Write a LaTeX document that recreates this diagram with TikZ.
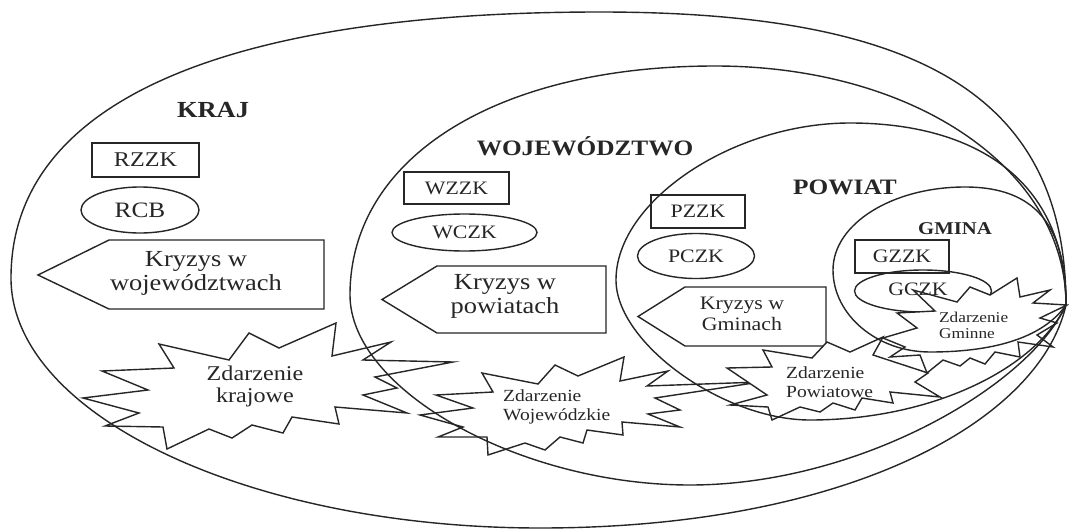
\documentclass[tikz,border=0pt]{standalone}
\usepackage{fontspec}
\setmainfont{Liberation Serif}[FakeStretch=1.15]
\usetikzlibrary{shapes.geometric}
\definecolor{ink}{HTML}{262626}
\begin{document}
\begin{tikzpicture}[x=1pt,y=-1pt,
  ln/.style={draw=ink,line width=1.4pt,line join=miter},
  starln/.style={draw=ink,line width=1.4pt,fill=white,line join=miter},
  hdr/.style={text=ink,inner sep=0pt,font=\bfseries\fontsize{#1}{#1}\selectfont},
  txt/.style={text=ink,inner sep=0pt,font=\fontsize{#1}{#1}\selectfont},
  boxn/.style={draw=ink,line width=1.4pt,rectangle,inner sep=0pt,text=ink},
  ovaln/.style={draw=ink,line width=1.4pt,ellipse,inner sep=0pt,text=ink}]
\useasboundingbox (0,0) rectangle (1069,530);
\fill[white] (0,0) rectangle (1069,530);
\coordinate (R) at (1066,305);

% headers
\node[hdr=23] (kraj) at (213,110) {KRAJ};
\node[hdr=22] (woj) at (585,146) {WOJEWÓDZTWO};
\node[hdr=22] (pow) at (845,187) {POWIAT};
\node[hdr=18] (gmi) at (955,229) {GMINA};

% boxes
\node[boxn,minimum width=107pt,minimum height=34pt,font=\fontsize{21}{21}\selectfont] (rzzk) at (145.5,160) {RZZK};
\node[boxn,minimum width=105pt,minimum height=32pt,font=\fontsize{19}{19}\selectfont] (wzzk) at (456.5,188) {WZZK};
\node[boxn,minimum width=94pt,minimum height=33pt,font=\fontsize{19}{19}\selectfont] (pzzk) at (698,211.5) {PZZK};
\node[boxn,minimum width=94pt,minimum height=33pt,font=\fontsize{19}{19}\selectfont] (gzzk) at (902,256.5) {GZZK};

% ovals
\node[ovaln,minimum width=118pt,minimum height=46pt,font=\fontsize{22}{22}\selectfont] (rcb) at (140,210) {RCB};
\node[ovaln,minimum width=145pt,minimum height=37pt,font=\fontsize{19}{19}\selectfont] (wczk) at (464.5,232.5) {WCZK};
\node[ovaln,minimum width=117pt,minimum height=45pt,font=\fontsize{19}{19}\selectfont] (pczk) at (696,256) {PCZK};
\node[ovaln,minimum width=137pt,minimum height=42pt] (gczkshape) at (923,291) {};

% crisis arrows
\draw[ln] (38,275) -- (109,240) -- (324,240) -- (324,309) -- (109,309) -- cycle;
\node[txt=23,align=center,font=\fontsize{23}{24}\selectfont] (kw) at (196,273) {Kryzys w\\województwach};
\draw[ln] (382,299.5) -- (437,266) -- (606,266) -- (606,333) -- (437,333) -- cycle;
\node[txt=23,align=center,font=\fontsize{23}{24}\selectfont] (kp) at (505,296) {Kryzys w\\powiatach};
\draw[ln] (638,316.5) -- (685,287) -- (826,287) -- (826,346) -- (685,346) -- cycle;
\node[txt=19,align=center,font=\fontsize{19}{21}\selectfont] (kg) at (742,314) {Kryzys w\\Gminach};

% event stars
\draw[starln] (83,398) -- (148,390) -- (102,371) -- (174,368) -- (159,344) -- (229,360) -- (249,333) -- (279,348) -- (336,323) -- (332,356) -- (391,342) -- (363,360) -- (453,362) -- (375,377) -- (397,388) -- (363,395) -- (407,413) -- (335,407) -- (339,424) -- (292,417) -- (283,433) -- (252,425) -- (232,438) -- (209,429) -- (167,449) -- (163,427) -- (105,426) -- (139,413) -- cycle;
\node[txt=21,align=center,font=\fontsize{21}{22}\selectfont] (zk) at (255,386) {Zdarzenie\\krajowe};

\draw[starln] (436,395) -- (493,392) -- (482,373) -- (538,384) -- (555,365) -- (578,376) -- (624,357) -- (620,381) -- (668,371) -- (647,386) -- (760,382) -- (655,398) -- (680,410) -- (648,414) -- (680,427) -- (622,422) -- (623,435) -- (587,430) -- (583,443) -- (560,437) -- (545,450) -- (525,443) -- (488,455) -- (487,437) -- (438,437) -- (463,427) -- (420,415) -- (473,408) -- cycle;
\node[txt=17,anchor=west,align=left,font=\fontsize{17}{19}\selectfont] (zw) at (503,406.5) {Zdarzenie\\Wojewódzkie};

\draw[starln] (727,368) -- (772,367) -- (763,350) -- (812,358) -- (827,342) -- (850,352) -- (883,337) -- (873,355) -- (928,373) -- (915,382) -- (940,397) -- (890,392) -- (893,403) -- (862,398) -- (855,410) -- (833,403) -- (820,412) -- (800,407) -- (772,420) -- (768,407) -- (730,405) -- (767,395) -- cycle;
\node[txt=17,anchor=west,align=left,font=\fontsize{17}{19}\selectfont] (zp) at (786,382.5) {Zdarzenie\\Powiatowe};

\draw[starln] (913,290) -- (935,311) -- (897,313) -- (917,328) -- (883,338) -- (905,347) -- (890,357) -- (920,355) -- (927,373) -- (943,360) -- (960,366) -- (970,358) -- (985,364) -- (995,352) -- (1020,357) -- (1018,342) -- (1053,347) -- (1037,335) -- (1057,323) -- (1040,318) -- (1067,305) -- (1033,303) -- (1050,290) -- (1020,297) -- (1017,278) -- (990,295) -- (970,287) -- (957,302) -- cycle;
\node[txt=15,anchor=west,align=left,font=\fontsize{15}{16}\selectfont] (zg) at (939,325) {Zdarzenie\\Gminne};

\node[txt=19,font=\fontsize{19}{19}\selectfont] (gczk) at (918,289) {GCZK};

% nested regions
\draw[ln] (R) .. controls (1066,100) and (926,12) .. (600,12) .. controls (217,12) and (11,105) .. (11,278) .. controls (11,415) and (249,528) .. (540,528) .. controls (850,528) and (1040,420) .. (R);
\draw[ln] (R) .. controls (1066,170) and (915,66) .. (715,66) .. controls (496,66) and (350,158) .. (350,295) .. controls (350,390) and (520,485) .. (690,485) .. controls (860,485) and (1030,385) .. (R);
\draw[ln] (R) .. controls (1066,180) and (975,123) .. (850,123) .. controls (733,123) and (616,201) .. (616,280) .. controls (616,343) and (723,420) .. (810,420) .. controls (930,420) and (1035,370) .. (R);
\draw[ln] (R) .. controls (1066,225) and (1035,187) .. (965,187) .. controls (892,187) and (833,224) .. (833,270) .. controls (833,315) and (877,352) .. (930,352) .. controls (1000,352) and (1045,335) .. (R);
\end{tikzpicture}
\end{document}
